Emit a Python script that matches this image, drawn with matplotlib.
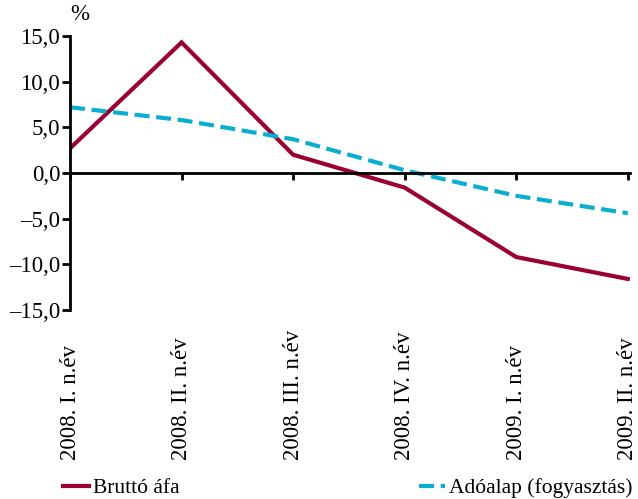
import numpy as np
import matplotlib
matplotlib.use('Agg')
from matplotlib import pyplot as plt
from matplotlib.ticker import FuncFormatter

plt.rcParams['font.family'] = ['Liberation Serif', 'DejaVu Serif']

categories = ['2008. I. n.év', '2008. II. n.év', '2008. III. n.év',
              '2008. IV. n.év', '2009. I. n.év', '2009. II. n.év']
brutto_afa = [2.7, 14.3, 2.0, -1.6, -9.2, -11.6]
adoalap = [7.2, 5.8, 3.7, 0.3, -2.5, -4.4]

red = '#9a0036'
cyan = '#0aaed0'
fs = 16.5

fig = plt.figure(figsize=(6.38, 4.99), dpi=100)
ax = fig.add_axes([70/638, 1 - 310/499, 560/638, 274/499])

x = np.arange(len(categories))
ax.plot(x, brutto_afa, color=red, lw=3, solid_joinstyle='miter', label='Bruttó áfa')
ax.plot(x, adoalap, color=cyan, lw=3, dashes=(3.6, 1.6), label='Adóalap (fogyasztás)')

ax.set_xlim(0, 5.02)
ax.set_ylim(-15, 15)
ax.set_yticks(np.arange(-15, 16, 5))
ax.yaxis.set_major_formatter(FuncFormatter(
    lambda v, p: ('%.1f' % v).replace('.', ',').replace('-', '\u2013')))
ax.tick_params(axis='y', direction='out', length=6, width=2, labelsize=fs, pad=1)

for s in ['top', 'right']:
    ax.spines[s].set_visible(False)
ax.spines['left'].set_linewidth(2)
ax.spines['bottom'].set_position(('data', 0))
ax.spines['bottom'].set_linewidth(2)
ax.set_xticks(x)
ax.tick_params(axis='x', direction='out', length=5, width=2, labelbottom=False)

# category labels, bottom aligned below the plot
sec = ax.secondary_xaxis(-150/274)
sec.set_xticks(x)
sec.set_xticklabels(categories, rotation=90, fontsize=fs, va='bottom')
sec.spines['bottom'].set_visible(False)
sec.tick_params(length=0, pad=0)

ax.text(0, 1 + 11/274, '%', transform=ax.transAxes, fontsize=fs, ha='left', va='bottom')

fig.legend(loc='center left', bbox_to_anchor=(63/638, 1 - 488/499), ncol=2, frameon=False,
           fontsize=15.5, handlelength=1.2, handletextpad=0.2, columnspacing=11.1,
           borderpad=0, borderaxespad=0)

fig.savefig('out.png', dpi=100)
